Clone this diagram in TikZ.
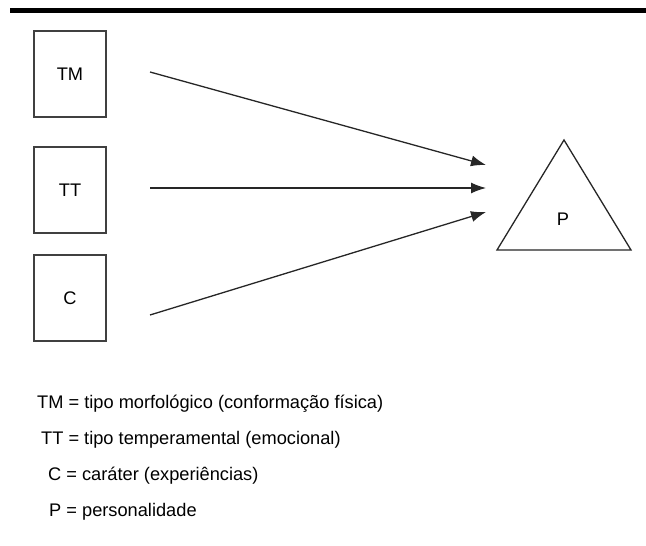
\documentclass[tikz,border=0pt]{standalone}
\usepackage{fontspec}
\setmainfont{Liberation Sans}
\usetikzlibrary{positioning,arrows.meta}

\begin{document}
\begin{tikzpicture}[
  x=1bp, y=-1bp,
  factorbox/.style={
    rectangle, draw=black!75, line width=1.6bp,
    fill=white, text centered,
    minimum width=72bp, minimum height=86bp,
    font=\fontsize{18.3}{22}\selectfont
  },
  influences/.style={-{Latex[length=15bp,width=11bp]}, line width=1.3bp, black!85},
  legendline/.style={anchor=base west, inner sep=0pt, font=\fontsize{18.3}{22}\selectfont}
]
\useasboundingbox (0,0) rectangle (646,546);

% Top rule
\fill[black] (10,8) rectangle (646,13);

% Nodes
\node[factorbox] (tm) at (70,74)  {TM};
\node[factorbox] (tt) at (70,190) {TT};
\node[factorbox] (c)  at (70,298) {C};

% Personality triangle
\coordinate (apex)  at (564,140);
\coordinate (bleft) at (497,250);
\coordinate (bright) at (631,250);
\draw[line width=1.3bp, black!85, line join=miter] (apex) -- (bleft) -- (bright) -- cycle;
\node[font=\fontsize{18.3}{22}\selectfont] (p) at (563,219) {P};

% Arrow ends
\coordinate (tmstart) at (150,72);
\coordinate (ttstart) at (150,188);
\coordinate (cstart)  at (150,315);
\coordinate (tmend) at (486,165);
\coordinate (ttend) at (486,188);
\coordinate (cend)  at (486,212);

% TM, TT and C all lead to P
\draw[influences] (tmstart) -- (tmend);
\draw[influences] (ttstart) -- (ttend);
\draw[influences] (cstart) -- (cend);

% Legend
\node[legendline] (legtm) at (37,408) {TM = tipo morfológico (conformação física)};
\node[legendline] (legtt) at (41,444) {TT = tipo temperamental (emocional)};
\node[legendline] (legc)  at (48,480) {C = caráter (experiências)};
\node[legendline] (legp)  at (49,516) {P = personalidade};

\end{tikzpicture}
\end{document}
